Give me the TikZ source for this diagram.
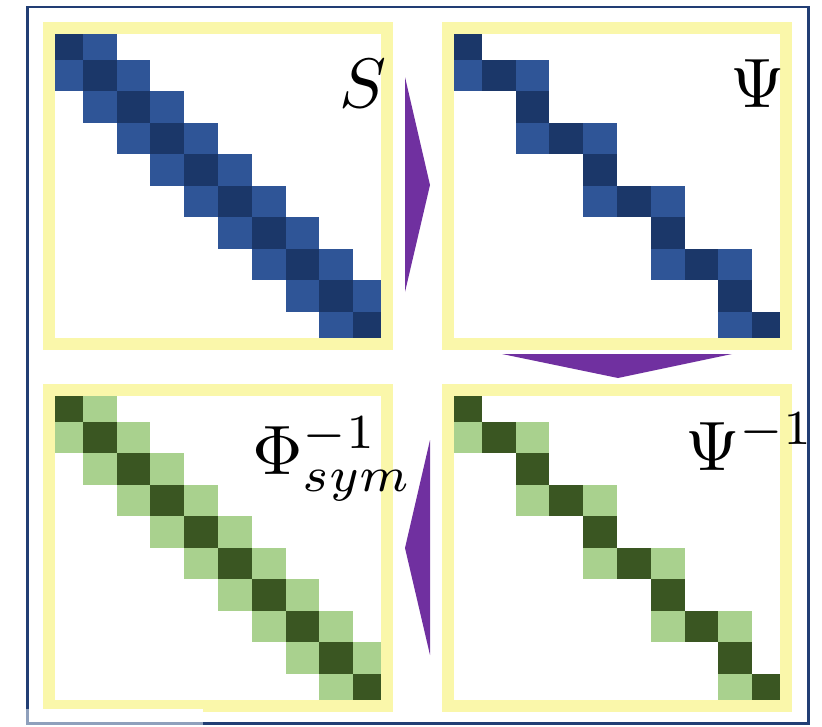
\documentclass[tikz,border=0pt]{standalone}
\definecolor{dkblue}{RGB}{27,55,105}
\definecolor{ltblue}{RGB}{47,85,151}
\definecolor{dkgreen}{RGB}{58,86,34}
\definecolor{ltgreen}{RGB}{169,209,142}
\definecolor{framecol}{RGB}{250,247,170}
\definecolor{arrowcol}{RGB}{112,48,160}
\definecolor{bordercol}{RGB}{34,62,116}
\definecolor{paleborder}{RGB}{143,160,188}
\begin{document}
\begin{tikzpicture}[x=1pt,y=-1pt,
    panel/.style={x=33.8pt,y=-31.55pt},
    frame/.style={draw=framecol,line width=12pt},
    lbl/.style={inner sep=0pt,anchor=base west,scale=7}]
    \useasboundingbox (0,0) rectangle (822,726);
    % Outer border
    \draw[bordercol,line width=2.5pt] (27.5,7) rectangle (808.5,723.5);
    % Matrix S
    \begin{scope}[shift={(49pt,-28pt)},panel]
        \foreach \i in {0,...,9} {\fill[dkblue] (\i,\i) rectangle +(1,1);}
        \foreach \i in {0,...,8} {
            \fill[ltblue] (\i+1,\i) rectangle +(1,1);
            \fill[ltblue] (\i,\i+1) rectangle +(1,1);
        }
    \end{scope}
    % Matrix Psi
    \begin{scope}[shift={(448pt,-28pt)},panel]
        \foreach \i in {0,...,9} {\fill[dkblue] (\i,\i) rectangle +(1,1);}
        \foreach \i in {1,3,5,7,9} {\fill[ltblue] (\i-1,\i) rectangle +(1,1);}
        \foreach \i in {1,3,5,7} {\fill[ltblue] (\i+1,\i) rectangle +(1,1);}
    \end{scope}
    % Matrix Phi_sym^-1
    \begin{scope}[shift={(49pt,-390pt)},panel]
        \foreach \i in {0,...,9} {\fill[dkgreen] (\i,\i) rectangle +(1,1);}
        \foreach \i in {0,...,8} {
            \fill[ltgreen] (\i+1,\i) rectangle +(1,1);
            \fill[ltgreen] (\i,\i+1) rectangle +(1,1);
        }
    \end{scope}
    % Matrix Psi^-1
    \begin{scope}[shift={(448pt,-390pt)},panel]
        \foreach \i in {0,...,9} {\fill[dkgreen] (\i,\i) rectangle +(1,1);}
        \foreach \i in {1,3,5,7,9} {\fill[ltgreen] (\i-1,\i) rectangle +(1,1);}
        \foreach \i in {1,3,5,7} {\fill[ltgreen] (\i+1,\i) rectangle +(1,1);}
    \end{scope}
    % Yellow frames
    \foreach \px/\py in {49/28,448/28,49/390,448/390}
        \draw[frame] (\px,\py) rectangle +(338,315.5);
    % Labels
    \node[lbl] (labS) at (338,107) {$S$};
    \node[lbl] (labPsi) at (729,107) {$\Psi$};
    \node[lbl] (labPsiInv) at (684,470) {$\Psi^{-1}$};
    \node[lbl] (labPhi) at (251,474) {$\Phi_{sym}^{-1}$};
    % Arrows
    \fill[arrowcol] (405,77) -- (430,185) -- (405,292) -- cycle;
    \fill[arrowcol] (502,354) -- (732,354) -- (618,378) -- cycle;
    \fill[arrowcol] (430,440) -- (405,548) -- (430,655) -- cycle;
    % Pale corner of the border
    \fill[white] (29,708.5) rectangle (203,722);
    \draw[paleborder,line width=2.5pt] (27.5,708.5) -- (27.5,723.5) -- (203,723.5);
\end{tikzpicture}
\end{document}
